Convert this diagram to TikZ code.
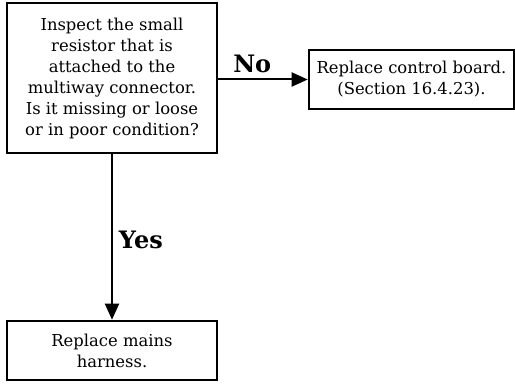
\documentclass[tikz,border=0pt]{standalone}
\usepackage{fontspec}
\setmainfont{DejaVu Serif}
\usetikzlibrary{arrows.meta,positioning}

\begin{document}
\begin{tikzpicture}[x=0.5pt,y=-0.5pt,>={Triangle[length=8pt,width=7pt]},
  box/.style={draw,line width=1.3pt,align=center,inner sep=0pt,font=\fontsize{8.2}{10.5}\selectfont},
  lbl/.style={font=\fontsize{12}{13}\selectfont\bfseries}]
  \useasboundingbox (0,0) rectangle (515,385);
  \node[box,minimum width=105pt,minimum height=75pt] (q) at (112,78)
    {Inspect the small\\resistor that is\\attached to the\\multiway connector.\\Is it missing or loose\\or in poor condition?};
  \node[box,minimum width=102.5pt,minimum height=29.5pt] (board) at (411.5,79.5)
    {Replace control board.\\(Section 16.4.23).};
  \node[box,minimum width=105pt,minimum height=29.5pt] (harness) at (112,350.5)
    {Replace mains\\harness.};
  \draw[->,line width=1pt] (q.east |- board.west) -- node[lbl,above,pos=0.38,inner sep=3pt] {No} (board.west);
  \draw[->,line width=1pt] (q) -- node[lbl,right,pos=0.52,inner sep=3pt] {Yes} (harness);
\end{tikzpicture}
\end{document}
